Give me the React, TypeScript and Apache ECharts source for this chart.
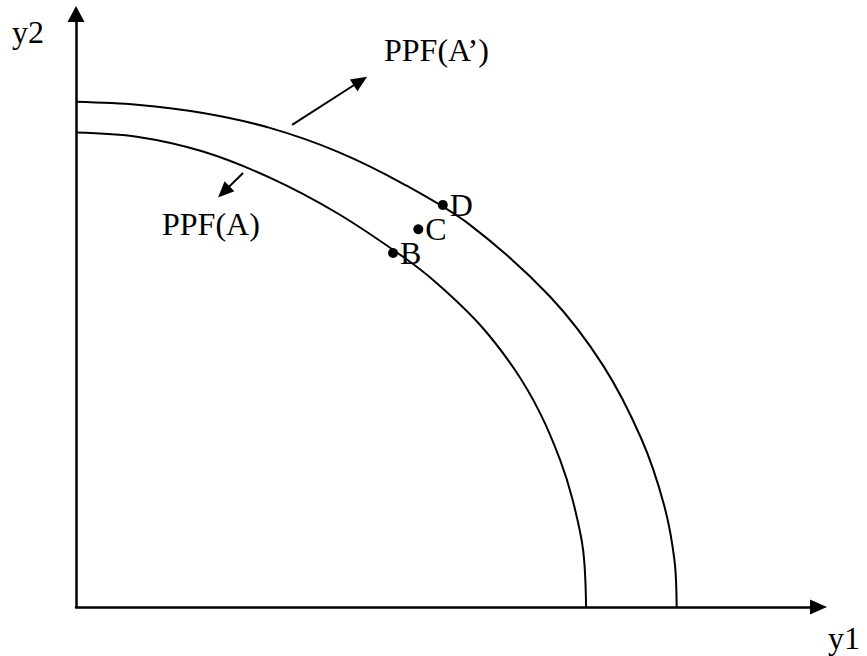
import React, { useEffect, useRef } from "react";
import * as echarts from "echarts";

// Outer frontier PPF(A')
const outerX = [0, 8.2, 17.1, 26.1, 35.2, 44.0, 53.1, 63.8, 71.0, 76.2, 79.2, 80.6, 80.9];
const outerY = [85.2, 84.7, 83.3, 80.8, 76.8, 71.4, 64.4, 52.4, 40.7, 28.2, 17.2, 7.9, 0];

// Inner frontier PPF(A)
const innerX = [0, 8.2, 17.1, 26.1, 35.2, 44.0, 48.6, 54.4, 59.1, 62.5, 65.2, 66.9, 68.3, 68.7];
const innerY = [80.0, 79.3, 76.8, 72.4, 66.4, 59.1, 54.6, 47.6, 40.0, 32.7, 24.8, 18.0, 9.6, 0];

// Labelled points
const pointNames = ["B", "C", "D"];
const pointX = [42.7, 46.1, 49.4];
const pointY = [59.7, 63.7, 67.8];

// Shift arrows: [startX, startY, endX, endY]
const arrowOut = [29.1, 81.3, 38.3, 88.7];
const arrowIn = [22.5, 73.2, 19.9, 70.0];

const INK = "#000";
const FONT = '"Liberation Serif", "Times New Roman", serif';
const FS = 32;

export default function App() {
  const ref = useRef<HTMLDivElement>(null);

  useEffect(() => {
    if (!ref.current) return;
    const chart = echarts.init(ref.current, null, { renderer: "svg" });

    const outer = outerX.map((x, i) => [x, outerY[i]]);
    const inner = innerX.map((x, i) => [x, innerY[i]]);
    const pts = pointX.map((x, i) => ({ name: pointNames[i], value: [x, pointY[i]] }));

    const txt = (text: string, x: number, y: number) => ({
      type: "text",
      x,
      y,
      style: {
        text,
        fill: INK,
        font: `${FS}px ${FONT}`,
        align: "left",
        verticalAlign: "middle",
      },
    });

    chart.setOption({
      animation: false,
      backgroundColor: "#fff",
      grid: { left: 76, right: 48.5, top: 14, bottom: 49, containLabel: false },
      xAxis: {
        type: "value",
        min: 0,
        max: 100,
        axisLine: {
          show: true,
          symbol: ["none", "triangle"],
          symbolSize: [15, 17],
          lineStyle: { color: INK, width: 2.5 },
        },
        axisTick: { show: false },
        axisLabel: { show: false },
        splitLine: { show: false },
      },
      yAxis: {
        type: "value",
        min: 0,
        max: 100,
        axisLine: {
          show: true,
          symbol: ["none", "triangle"],
          symbolSize: [17, 16],
          lineStyle: { color: INK, width: 2.5 },
        },
        axisTick: { show: false },
        axisLabel: { show: false },
        splitLine: { show: false },
      },
      series: [
        {
          name: "PPF(A’)",
          type: "line",
          data: outer,
          smooth: 0.33,
          showSymbol: false,
          lineStyle: { color: INK, width: 2 },
          z: 2,
        },
        {
          name: "PPF(A)",
          type: "line",
          data: inner,
          smooth: 0.33,
          showSymbol: false,
          lineStyle: { color: INK, width: 2 },
          z: 2,
        },
        {
          type: "scatter",
          data: pts,
          symbol: "circle",
          symbolSize: 10,
          itemStyle: { color: INK, opacity: 1 },
          z: 3,
          label: {
            show: true,
            position: "right",
            distance: 2,
            formatter: "{b}",
            color: INK,
            opacity: 1,
            fontFamily: FONT,
            fontSize: FS,
          },
          markLine: {
            silent: true,
            symbol: ["none", "triangle"],
            symbolSize: [14, 16],
            label: { show: false },
            lineStyle: { color: INK, width: 2, type: "solid", opacity: 1 },
            data: [
              [
                { coord: [arrowOut[0], arrowOut[1]] },
                { coord: [arrowOut[2], arrowOut[3]] },
              ],
              [
                { coord: [arrowIn[0], arrowIn[1]] },
                { coord: [arrowIn[2], arrowIn[3]] },
              ],
            ],
          },
        },
      ],
      graphic: [
        txt("y2", 12, 32),
        txt("y1", 828, 638),
        txt("PPF(A’)", 384, 50),
        txt("PPF(A)", 162, 224),
      ],
    });

    return () => chart.dispose();
  }, []);

  return (
    <div
      ref={ref}
      style={{ position: "fixed", left: 0, top: 0, width: 867, height: 656, background: "#fff" }}
    />
  );
}
